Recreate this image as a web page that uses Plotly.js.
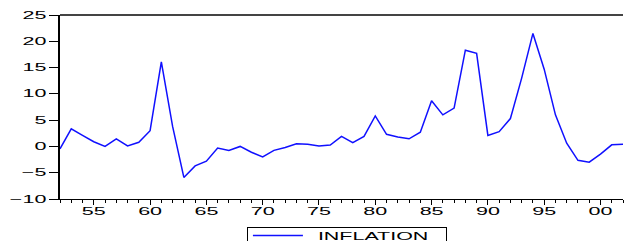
<!DOCTYPE html>
<html>
<head>
<meta charset="utf-8">
<script src="https://cdn.plot.ly/plotly-3.0.1.min.js"></script>
<style>
html,body{margin:0;padding:0;background:#fff;}
#chart{width:624px;height:241px;}
</style>
</head>
<body>
<div id="chart"></div>
<script>
// Years (x) and inflation values (y)
const years = [1952,1953,1954,1955,1956,1957,1958,1959,1960,1961,1962,1963,1964,1965,1966,1967,1968,1969,1970,1971,1972,1973,1974,1975,1976,1977,1978,1979,1980,1981,1982,1983,1984,1985,1986,1987,1988,1989,1990,1991,1992,1993,1994,1995,1996,1997,1998,1999,2000,2001,2002];
const inflation = [-0.45,3.35,2.1,0.9,0.0,1.45,0.1,0.8,3.0,16.1,3.8,-5.9,-3.7,-2.8,-0.3,-0.75,0.0,-1.1,-2.0,-0.75,-0.2,0.5,0.4,0.1,0.25,1.9,0.7,1.9,5.8,2.3,1.8,1.45,2.7,8.7,6.0,7.3,18.3,17.7,2.1,2.8,5.3,13.0,21.5,14.7,6.0,0.6,-2.65,-3.0,-1.45,0.3,0.4];
const xTickVals = [1955,1960,1965,1970,1975,1980,1985,1990,1995,2000];
const xTickText = ["55","60","65","70","75","80","85","90","95","00"];
const seriesName = "INFLATION";

const trace = {
  x: years, y: inflation, type: 'scatter', mode: 'lines', name: seriesName,
  line: {color: '#1010ff', width: 1.5}
};
const font = {family: 'Liberation Sans, Arial, sans-serif', size: 10, color: '#000'};
const layout = {
  width: 624, height: 241,
  margin: {l: 60, r: 1, t: 15, b: 42, autoexpand: false},
  paper_bgcolor: '#fff', plot_bgcolor: '#fff',
  font: font,
  showlegend: true,
  legend: {
    orientation: 'h', x: 0.332, xanchor: 'left', y: -0.114, yanchor: 'top',
    bordercolor: '#000', borderwidth: 1, bgcolor: '#fff',
    font: {family: 'Liberation Sans, Arial, sans-serif', size: 11, color: '#000'},
    entrywidth: 133, itemwidth: 50
  },
  xaxis: {
    range: [1952, 2002], showgrid: false, zeroline: false,
    showline: true, linecolor: '#000', linewidth: 1,
    tickvals: xTickVals, ticktext: xTickText,
    ticks: 'outside', ticklen: 5, tickwidth: 1, tickcolor: '#000',
    ticklabelstandoff: -2,
    minor: {dtick: 1, tick0: 1952, ticks: 'outside', ticklen: 3, tickwidth: 1, tickcolor: '#000', showgrid: false},
    tickfont: font, fixedrange: true, automargin: false
  },
  yaxis: {
    range: [-10, 25], dtick: 5, tick0: 0, showgrid: false, zeroline: false,
    showline: true, linecolor: '#000', linewidth: 2.5,
    ticks: 'outside', ticklen: 9, tickwidth: 1, tickcolor: '#000',
    tickfont: font, fixedrange: true, automargin: false
  },
  shapes: [{type: 'line', xref: 'paper', yref: 'paper', x0: 0, x1: 1, y0: 1, y1: 1,
            line: {color: '#444', width: 2}}]
};
Plotly.newPlot('chart', [trace], layout, {staticPlot: true, displayModeBar: false}).then(function(){
  // stretch tick labels horizontally like the reference
  document.querySelectorAll('.xtick text, .ytick text').forEach(function(t){
    const w = t.getComputedTextLength();
    t.setAttribute('textLength', (w * 2.15).toFixed(1));
    t.setAttribute('lengthAdjust', 'spacingAndGlyphs');
  });
  document.querySelectorAll('.legendtext').forEach(function(t){
    const w = t.getComputedTextLength();
    t.setAttribute('textLength', (w * 1.95).toFixed(1));
    t.setAttribute('lengthAdjust', 'spacingAndGlyphs');
    const x = parseFloat(t.getAttribute('x') || '0');
    t.setAttribute('x', (x + 10).toFixed(1));
  });
  // legend box top sits just above the entry, as in the reference
  document.querySelectorAll('.legend rect.bg').forEach(function(r){
    const y = parseFloat(r.getAttribute('y') || '0');
    const h = parseFloat(r.getAttribute('height') || '0');
    r.setAttribute('y', (y + 7).toFixed(1));
    r.setAttribute('height', Math.max(0, h - 7).toFixed(1));
  });
});
</script>
</body>
</html>
